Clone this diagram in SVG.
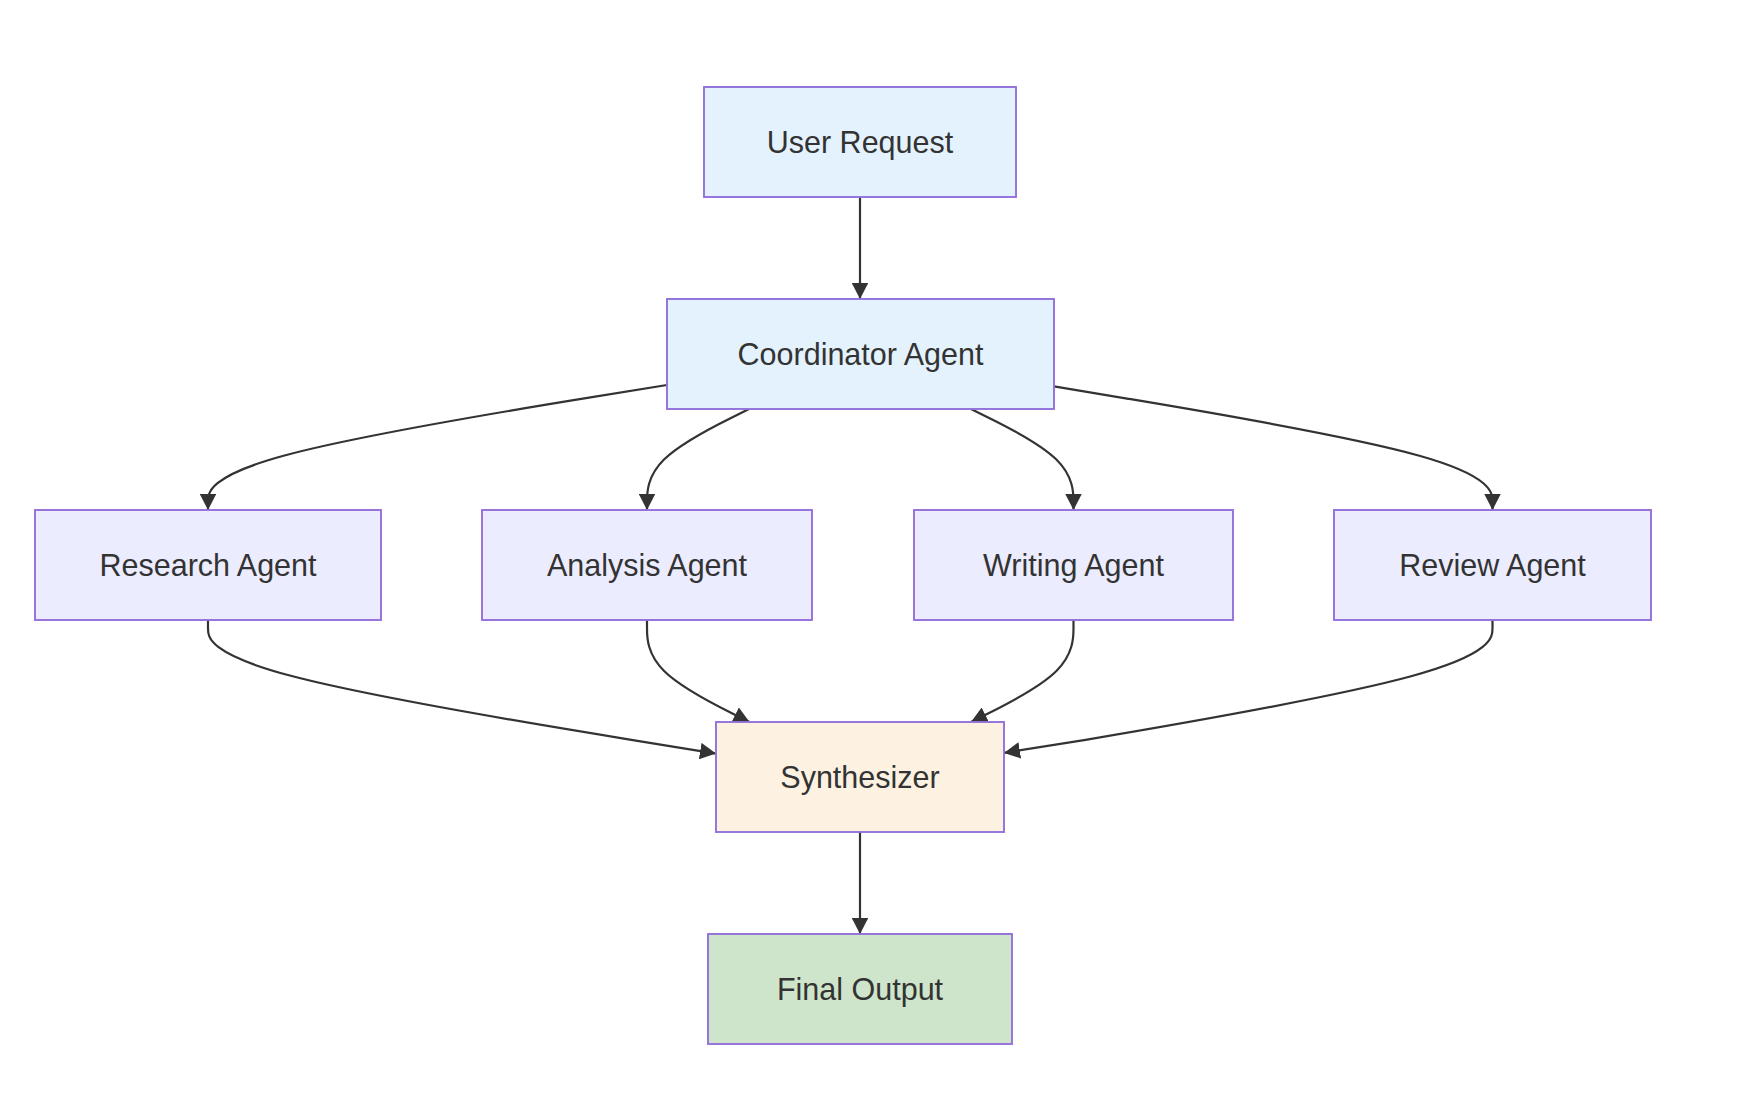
<svg xmlns="http://www.w3.org/2000/svg" width="1746" height="1106" viewBox="0 0 1746 1106">
<style>
.bg{fill:#ffffff}
.node rect{stroke:#9370DB;stroke-width:1.9}
.node text{font-family:"Liberation Sans",Arial,sans-serif;font-size:30.5px;fill:#333333;text-anchor:middle}
.blue rect{fill:#E3F2FD}
.agent rect{fill:#ECECFF}
.synth rect{fill:#FDF2E1}
.final rect{fill:#CFE5CB}
.edge{fill:none;stroke:#333333;stroke-width:2.2;marker-end:url(#arrow)}
</style>
<defs>
<marker id="arrow" viewBox="0 0 10 10" refX="10" refY="5" markerUnits="userSpaceOnUse" markerWidth="16" markerHeight="16.5" preserveAspectRatio="none" orient="auto">
<path d="M0,0 L10,5 L0,10 z" fill="#333333"/>
</marker>
</defs>
<rect class="bg" x="0" y="0" width="1746" height="1106"/>
<g id="connectors">
<path class="edge" d="M860,197 L860,299"/>
<path class="edge" d="M667,385 L590.5,397.4 C514,409.8 361,434.7 284.5,455.5 C208,476.3 208,493.2 208,501.6 L208,510"/>
<path class="edge" d="M749,409 L732,417.4 C715,425.8 681,442.7 664,459.5 C647,476.3 647,493.2 647,501.6 L647,510"/>
<path class="edge" d="M971,409 L988.1,417.4 C1005.2,425.8 1039.3,442.7 1056.4,459.5 C1073.5,476.3 1073.5,493.2 1073.5,501.6 L1073.5,510"/>
<path class="edge" d="M1054,386.4 L1127.1,398.6 C1200.2,410.8 1346.3,435.1 1419.4,455.7 C1492.5,476.3 1492.5,493.2 1492.5,501.6 L1492.5,510"/>
<path class="edge" d="M208,620 L208,628.5 C208,637 208,654 292.7,676.3 C377.3,698.5 546.7,726.1 631.3,739.8 L716,753.6"/>
<path class="edge" d="M647,620 L647,628.5 C647,637 647,654 664.1,671 C681.2,688 715.3,705 732.4,713.5 L749.5,722"/>
<path class="edge" d="M1073.5,620 L1073.5,628.5 C1073.5,637 1073.5,654 1056.4,671 C1039.3,688 1005.2,705 988.1,713.5 L971,722"/>
<path class="edge" d="M1492.5,620 L1492.5,628.5 C1492.5,637 1492.5,654 1411.1,676.3 C1329.8,698.5 1167,726.1 1085.6,739.8 L1004,752.9"/>
<path class="edge" d="M860,832 L860,934"/>
</g>
<g id="user-request" class="node blue">
<rect x="704" y="87" width="312" height="110"/>
<text x="860" y="153">User Request</text>
</g>
<g id="coordinator-agent" class="node blue">
<rect x="667" y="299" width="387" height="110"/>
<text x="860.5" y="365">Coordinator Agent</text>
</g>
<g id="research-agent" class="node agent">
<rect x="35" y="510" width="346" height="110"/>
<text x="208" y="576">Research Agent</text>
</g>
<g id="analysis-agent" class="node agent">
<rect x="482" y="510" width="330" height="110"/>
<text x="647" y="576">Analysis Agent</text>
</g>
<g id="writing-agent" class="node agent">
<rect x="914" y="510" width="319" height="110"/>
<text x="1073.5" y="576">Writing Agent</text>
</g>
<g id="review-agent" class="node agent">
<rect x="1334" y="510" width="317" height="110"/>
<text x="1492.5" y="576">Review Agent</text>
</g>
<g id="synthesizer" class="node synth">
<rect x="716" y="722" width="288" height="110"/>
<text x="860" y="788">Synthesizer</text>
</g>
<g id="final-output" class="node final">
<rect x="708" y="934" width="304" height="110"/>
<text x="860" y="1000">Final Output</text>
</g>
</svg>
